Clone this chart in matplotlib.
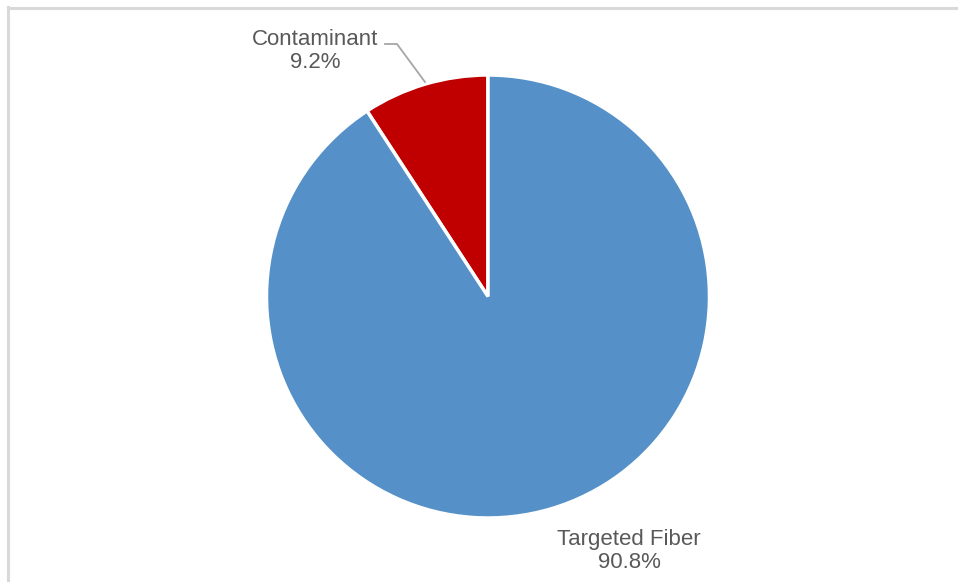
import matplotlib.pyplot as plt
from matplotlib.lines import Line2D

labels = ['Contaminant', 'Targeted Fiber']
shares = [9.2, 90.8]
colors = ['#C00000', '#5591C8']

W, H = 958, 582
fig = plt.figure(figsize=(W / 100, H / 100), dpi=100)
fig.patch.set_facecolor('white')

# axes in pixel units, y measured up from the bottom
ax = fig.add_axes([0, 0, 1, 1])

cx, cy, r = 488, H - 296.5, 221.5
ax.pie(shares, colors=colors, startangle=90, counterclock=True,
       center=(cx, cy), radius=r, frame=True,
       wedgeprops=dict(edgecolor='white', linewidth=2.5))
ax.set_xlim(0, W)
ax.set_ylim(0, H)
ax.set_aspect('equal')
ax.axis('off')

txt = dict(ha='center', va='center', color='#595959', fontsize=16,
           family='Liberation Sans', linespacing=1.1)
ax.text(315, H - 51, f'{labels[0]}\n{shares[0]:.1f}%', **txt)
ax.text(629, H - 551, f'{labels[1]}\n{shares[1]:.1f}%', **txt)

# leader line for the small slice
ax.plot([385, 397, 425], [H - 44, H - 44, H - 82], color='#A6A6A6', lw=1.3,
        solid_joinstyle='miter')

# chart area border (top and left edges)
fig.add_artist(Line2D([7.5 / W, 1], [1 - 8 / H, 1 - 8 / H], color='#D9D9D9', lw=2.2))
fig.add_artist(Line2D([8 / W, 8 / W], [0, 1 - 7 / H], color='#D9D9D9', lw=2.2))

fig.savefig('out.png', dpi=100)
